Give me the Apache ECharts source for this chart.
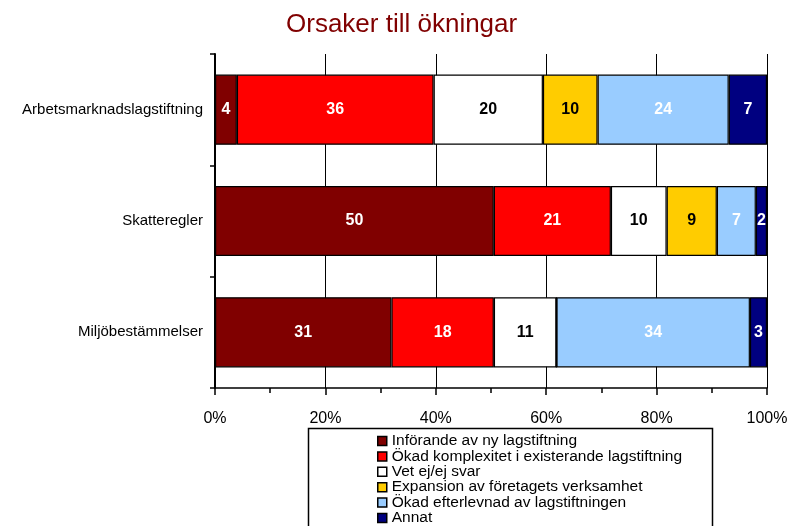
<!DOCTYPE html>
<html>
<head>
<meta charset="utf-8">
<script src="https://cdn.jsdelivr.net/npm/echarts@6/dist/echarts.min.js"></script>
<style>
  html, body { margin: 0; padding: 0; background: #fff; }
  #chart { width: 789px; height: 526px; }
</style>
</head>
<body>
<div id="chart"></div>
<script>
// kategorier uppifrån och ner
const categories = ['Arbetsmarknadslagstiftning', 'Skatteregler', 'Miljöbestämmelser']

const seriesNames = [
  'Införande av ny lagstiftning',
  'Ökad komplexitet i existerande lagstiftning',
  'Vet ej/ej svar',
  'Expansion av företagets verksamhet',
  'Ökad efterlevnad av lagstiftningen',
  'Annat'
]

// svar per kategori (siffrorna som står i staplarna)
const nyLag = [4, 50, 31]
const komplexitet = [36, 21, 18]
const vetEj = [20, 10, 11]
const expansion = [10, 9, 0]
const efterlevnad = [24, 7, 34]
const annat = [7, 2, 3]

const xTicks = [0, 20, 40, 60, 80, 100]

const colors = ['#800000', '#FF0000', '#FFFFFF', '#FFCC00', '#99CCFF', '#000080']
const labelColors = ['#fff', '#fff', '#000', '#000', '#fff', '#fff']

const raw = [nyLag, komplexitet, vetEj, expansion, efterlevnad, annat]
// summa per kategori, staplarna normeras till 100 %
const totals = categories.map((c, i) => raw.reduce((s, arr) => s + arr[i], 0))

const chart = echarts.init(document.getElementById('chart'))

const option = {
  animation: false,
  title: {
    text: 'Orsaker till ökningar',
    left: 281,
    top: 7,
    textStyle: { color: '#800000', fontSize: 26, fontWeight: 'normal', fontFamily: 'Liberation Sans' }
  },
  grid: { left: 215, right: 22, top: 54, bottom: 138, outerBoundsMode: 'none' },
  legend: {
    orient: 'vertical',
    left: 377,
    top: 433,
    height: 200,
    padding: 0,
    itemWidth: 9,
    itemHeight: 9,
    itemGap: -0.6,
    icon: 'rect',
    selectedMode: false,
    itemStyle: { borderColor: '#000', borderWidth: 1.5 },
    textStyle: { fontSize: 15.5, color: '#000', fontFamily: 'Liberation Sans' },
    data: seriesNames
  },
  graphic: [{
    type: 'rect',
    left: 306,
    top: 426,
    shape: { width: 404, height: 110 },
    style: { fill: 'none', stroke: '#000', lineWidth: 1.5 },
    z: -1
  }],
  xAxis: {
    type: 'value',
    min: xTicks[0],
    max: xTicks[xTicks.length - 1],
    interval: 20,
    axisLine: { show: true, lineStyle: { color: '#000', width: 1.5 } },
    axisTick: { show: true, length: 7, lineStyle: { color: '#000', width: 1.5 } },
    minorTick: { show: true, splitNumber: 2, length: 5, lineStyle: { color: '#000', width: 1.5 } },
    splitLine: { show: true, lineStyle: { color: '#000', width: 1 } },
    axisLabel: {
      formatter: '{value}%',
      color: '#000',
      fontSize: 16,
      margin: 23,
      fontFamily: 'Liberation Sans'
    }
  },
  yAxis: {
    type: 'category',
    inverse: true,
    data: categories,
    axisLine: { lineStyle: { color: '#000', width: 2 } },
    axisTick: { show: true, length: 5, lineStyle: { color: '#000', width: 1.5 } },
    axisLabel: { color: '#000', fontSize: 15, margin: 12, fontFamily: 'Liberation Sans' }
  },
  series: seriesNames.map((name, k) => ({
    name: name,
    type: 'bar',
    stack: 'total',
    barWidth: '63%',
    itemStyle: { color: colors[k], borderColor: '#000', borderWidth: 1.2 },
    label: {
      show: true,
      color: labelColors[k],
      fontWeight: 'bold',
      fontSize: 16,
      fontFamily: 'Liberation Sans',
      formatter: p => raw[k][p.dataIndex] ? String(raw[k][p.dataIndex]) : ''
    },
    data: raw[k].map((v, i) => v / totals[i] * 100)
  }))
}

chart.setOption(option)
window.addEventListener('resize', () => {
  chart.resize()
})
</script>
</body>
</html>
